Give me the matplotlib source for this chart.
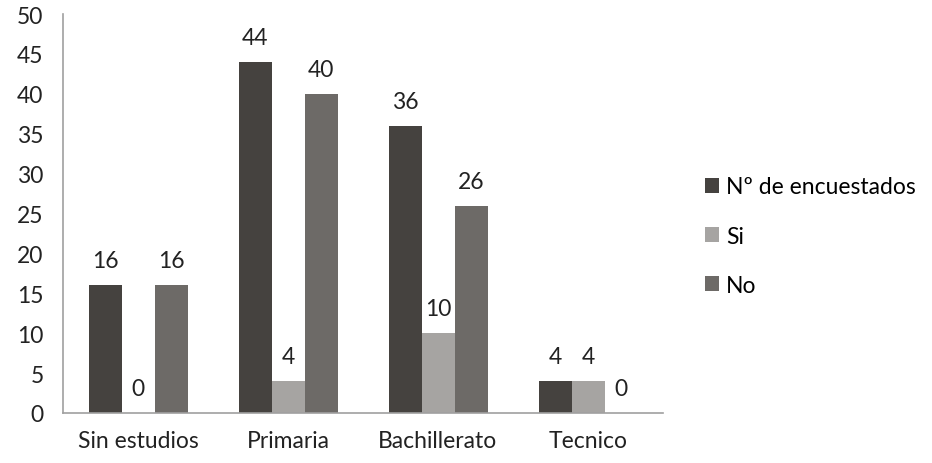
import matplotlib
matplotlib.use("Agg")
import matplotlib.pyplot as plt
import numpy as np

categories = ["Sin estudios", "Primaria", "Bachillerato", "Tecnico"]
series_names = ["Nº de encuestados", "Si", "No"]
encuestados = [16, 44, 36, 4]
si = [0, 4, 10, 4]
no = [16, 40, 26, 0]
colors = ["#45423f", "#a6a4a2", "#6d6a67"]

plt.rcParams['font.family'] = ['Lato', 'DejaVu Sans']
FS = 16.5

fig = plt.figure(figsize=(9.32, 4.64), dpi=100)
ax = fig.add_axes([63/932, 50/464, 600/932, 399/464])

x = np.arange(len(categories))
w = 0.22
for i, (vals, name, c) in enumerate(zip([encuestados, si, no], series_names, colors)):
    pos = x + (i - 1) * w
    ax.bar(pos, vals, width=w, color=c, label=name, zorder=2)
    for p, v in zip(pos, vals):
        ax.annotate(str(v), (p, v), xytext=(0, 10), textcoords="offset points",
                    ha="center", va="bottom", fontsize=FS, color="#222222")

ax.set_xlim(-0.5, 3.5)
ax.set_ylim(0, 50)
ax.set_yticks(range(0, 51, 5))
ax.set_xticks(x)
ax.set_xticklabels(categories)
ax.tick_params(axis='both', length=0, labelsize=FS, colors="#222222")
ax.tick_params(axis='y', pad=14)
ax.tick_params(axis='x', pad=12)
for s in ["top", "right"]:
    ax.spines[s].set_visible(False)
for s in ["left", "bottom"]:
    ax.spines[s].set_color("#a0a0a0")
    ax.spines[s].set_linewidth(1.2)

fig.legend(loc="upper left", bbox_to_anchor=(694/932, 1 - 166/464), frameon=False,
           fontsize=FS, handlelength=0.6, handleheight=0.6, handletextpad=0.3,
           labelspacing=1.23, borderpad=0)

fig.savefig("out.png", dpi=100)
